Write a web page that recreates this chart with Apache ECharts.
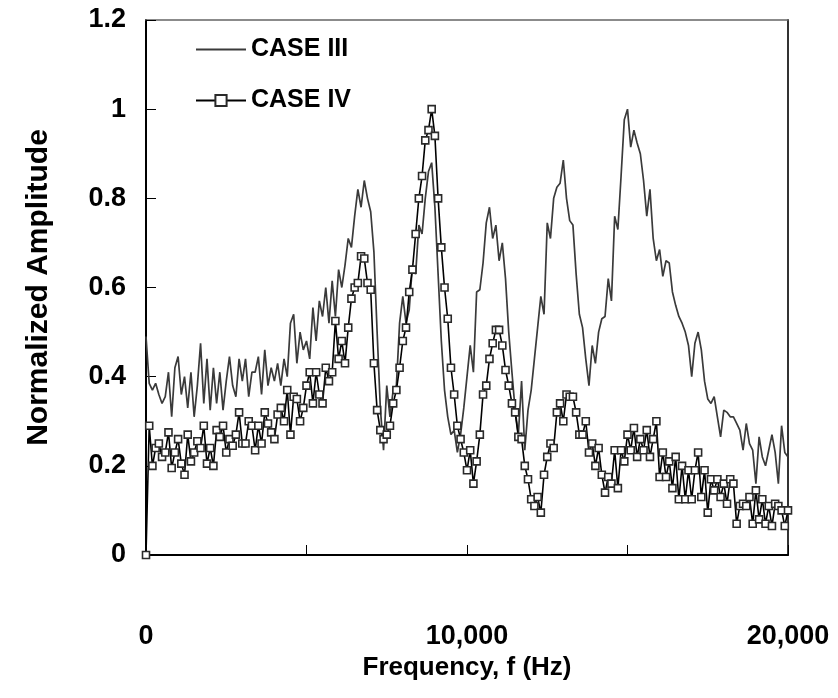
<!DOCTYPE html>
<html>
<head>
<meta charset="utf-8">
<script src="https://cdn.jsdelivr.net/npm/echarts@6/dist/echarts.min.js"></script>
<style>
html,body{margin:0;padding:0;background:#fff;}
#chart{width:838px;height:698px;}
</style>
</head>
<body>
<div id="chart"></div>
<script>
// frequency step between samples (Hz)
const FREQ_STEP = 100;
const xTickLabels = ['0', '10,000', '20,000'];
const seriesNames = ['CASE III', 'CASE IV'];

const caseIII = [
  0.49, 0.385, 0.37, 0.385, 0.36, 0.34, 0.355, 0.41, 0.31, 0.42,
  0.445, 0.36, 0.40, 0.33, 0.41, 0.31, 0.38, 0.475, 0.34, 0.44,
  0.325, 0.42, 0.34, 0.41, 0.325, 0.39, 0.445, 0.38, 0.355, 0.44,
  0.39, 0.44, 0.355, 0.41, 0.41, 0.445, 0.36, 0.46, 0.38, 0.42,
  0.39, 0.43, 0.38, 0.44, 0.40, 0.52, 0.54, 0.43, 0.50, 0.46,
  0.48, 0.44, 0.555, 0.48, 0.57, 0.535, 0.60, 0.52, 0.615, 0.535,
  0.64, 0.60, 0.65, 0.71, 0.69, 0.76, 0.82, 0.78, 0.84, 0.80,
  0.77, 0.68, 0.50, 0.33, 0.235, 0.38, 0.31, 0.37, 0.38, 0.52,
  0.58, 0.52, 0.55, 0.65, 0.63, 0.74, 0.72, 0.80, 0.86, 0.88,
  0.78, 0.63, 0.48, 0.37, 0.31, 0.27, 0.28, 0.23, 0.27, 0.33,
  0.40, 0.47, 0.41, 0.59, 0.595, 0.655, 0.745, 0.78, 0.71, 0.74,
  0.66, 0.70, 0.62, 0.50, 0.41, 0.325, 0.27, 0.39, 0.235, 0.325,
  0.37, 0.44, 0.51, 0.58, 0.54, 0.745, 0.71, 0.80, 0.825, 0.834,
  0.886, 0.80, 0.75, 0.74, 0.63, 0.54, 0.51, 0.44, 0.38, 0.47,
  0.43, 0.50, 0.53, 0.535, 0.62, 0.57, 0.76, 0.73, 0.85, 0.976,
  1.0, 0.915, 0.953, 0.924, 0.90, 0.84, 0.76, 0.82, 0.71, 0.66,
  0.685, 0.625, 0.66, 0.655, 0.59, 0.56, 0.535, 0.52, 0.50, 0.47,
  0.40, 0.475, 0.50, 0.46, 0.39, 0.35, 0.34, 0.355, 0.31, 0.265,
  0.325, 0.32, 0.31, 0.31, 0.295, 0.28, 0.235, 0.295, 0.25, 0.235,
  0.16, 0.265, 0.22, 0.20, 0.235, 0.27, 0.23, 0.16, 0.29, 0.23,
  0.22
];

const caseIV = [
  0, 0.29, 0.20, 0.24, 0.25, 0.22, 0.23, 0.275, 0.195, 0.23,
  0.26, 0.205, 0.18, 0.27, 0.21, 0.23, 0.255, 0.24, 0.29, 0.205,
  0.24, 0.20, 0.28, 0.265, 0.29, 0.23, 0.26, 0.245, 0.27, 0.32,
  0.25, 0.25, 0.30, 0.29, 0.235, 0.29, 0.25, 0.32, 0.295, 0.275,
  0.26, 0.315, 0.33, 0.30, 0.37, 0.27, 0.355, 0.35, 0.30, 0.33,
  0.38, 0.41, 0.34, 0.41, 0.36, 0.34, 0.42, 0.39, 0.41, 0.525,
  0.44, 0.48, 0.43, 0.51, 0.575, 0.60, 0.61, 0.67, 0.665, 0.61,
  0.595, 0.43, 0.325, 0.28, 0.26, 0.27, 0.29, 0.34, 0.37, 0.42,
  0.48, 0.51, 0.59, 0.64, 0.72, 0.80, 0.85, 0.93, 0.953, 1.0,
  0.94, 0.80, 0.69, 0.60, 0.53, 0.42, 0.36, 0.29, 0.26, 0.23,
  0.19, 0.235, 0.16, 0.21, 0.27, 0.36, 0.38, 0.44, 0.475, 0.505,
  0.505, 0.47, 0.415, 0.38, 0.34, 0.32, 0.265, 0.26, 0.20, 0.17,
  0.125, 0.11, 0.13, 0.095, 0.18, 0.22, 0.25, 0.24, 0.32, 0.34,
  0.30, 0.36, 0.355, 0.355, 0.32, 0.27, 0.27, 0.30, 0.23, 0.25,
  0.20, 0.24, 0.18, 0.14, 0.175, 0.16, 0.235, 0.15, 0.235, 0.21,
  0.27, 0.235, 0.285, 0.22, 0.26, 0.235, 0.28, 0.22, 0.26, 0.30,
  0.175, 0.23, 0.175, 0.21, 0.15, 0.22, 0.125, 0.20, 0.125, 0.19,
  0.125, 0.19, 0.23, 0.13, 0.19, 0.095, 0.17, 0.145, 0.17, 0.13,
  0.16, 0.115, 0.17, 0.16, 0.07, 0.11, 0.115, 0.11, 0.13, 0.07,
  0.145, 0.08, 0.125, 0.07, 0.11, 0.065, 0.115, 0.11, 0.10, 0.065,
  0.10
];

const toPairs = arr => arr.map((v, i) => [i * FREQ_STEP, v]);

const FONT = '"Liberation Sans", Arial, sans-serif';
const chart = echarts.init(document.getElementById('chart'), null, {renderer: 'canvas'});

chart.setOption({
  animation: false,
  backgroundColor: '#fff',
  grid: {left: 146, right: 50, top: 20, bottom: 143, containLabel: false},
  legend: {
    data: [
      {name: seriesNames[0], itemStyle: {opacity: 0}},
      {name: seriesNames[1]}
    ],
    orient: 'vertical',
    left: 190,
    top: 32,
    padding: 5,
    itemWidth: 50,
    itemHeight: 14,
    itemGap: 26,
    textStyle: {fontFamily: FONT, fontWeight: 'bold', fontSize: 25, color: '#000'}
  },
  xAxis: [{
    type: 'value', min: 0, max: 20000, interval: 5000,
    name: 'Frequency, f (Hz)', nameLocation: 'middle', nameGap: 98,
    nameTextStyle: {fontFamily: FONT, fontWeight: 'bold', fontSize: 26, color: '#000'},
    axisLine: {show: true, onZero: false, lineStyle: {color: '#000', width: 2}},
    axisTick: {show: true, inside: true, length: 10, lineStyle: {color: '#000', width: 1}},
    axisLabel: {
      margin: 68, fontFamily: FONT, fontWeight: 'bold', fontSize: 27, color: '#000',
      formatter: v => (v % 10000 === 0 ? xTickLabels[v / 10000] : '')
    },
    splitLine: {show: false}
  }, {
    type: 'value', min: 0, max: 20000, position: 'top',
    axisLine: {show: true, onZero: false, lineStyle: {color: '#666', width: 1.5}},
    axisTick: {show: false}, axisLabel: {show: false}, splitLine: {show: false}
  }],
  yAxis: [{
    type: 'value', min: 0, max: 1.2, interval: 0.2,
    name: 'Normalized Amplitude', nameLocation: 'middle', nameGap: 92,
    nameTextStyle: {fontFamily: FONT, fontWeight: 'bold', fontSize: 30, color: '#000'},
    axisLine: {show: true, onZero: false, lineStyle: {color: '#000', width: 2}},
    axisTick: {show: true, inside: true, length: 10, lineStyle: {color: '#000', width: 1}},
    axisLabel: {margin: 20, fontFamily: FONT, fontWeight: 'bold', fontSize: 27, color: '#000'},
    splitLine: {show: false}
  }, {
    type: 'value', min: 0, max: 1.2, position: 'right',
    axisLine: {show: true, onZero: false, lineStyle: {color: '#333', width: 2}},
    axisTick: {show: false}, axisLabel: {show: false}, splitLine: {show: false}
  }],
  series: [{
    name: seriesNames[0],
    type: 'line',
    data: toPairs(caseIII),
    symbol: 'none',
    lineStyle: {color: '#3a3a3a', width: 1.7},
    itemStyle: {color: '#3a3a3a'},
    z: 2
  }, {
    name: seriesNames[1],
    type: 'line',
    data: toPairs(caseIV),
    symbol: 'rect',
    symbolSize: 7,
    showAllSymbol: true,
    lineStyle: {color: '#000', width: 1.6},
    itemStyle: {color: '#fff', borderColor: '#2a2a2a', borderWidth: 1.6},
    z: 3
  }]
});
</script>
</body>
</html>
